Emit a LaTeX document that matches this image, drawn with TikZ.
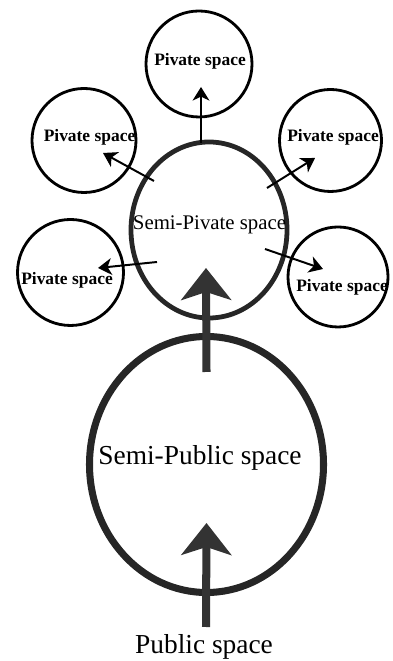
\documentclass[tikz,border=0pt]{standalone}
\usepackage{fontspec}
\setmainfont{Liberation Serif}
\usepackage{tikz}
\usetikzlibrary{arrows.meta,positioning,shapes.geometric,calc}

\begin{document}
\begin{tikzpicture}[
  pspace/.style={circle, draw, line width=2pt, inner sep=0pt},
  mainspace/.style={ellipse, draw, black!85, inner sep=0pt},
  ptext/.style={font=\fontsize{12.4}{15}\selectfont\bfseries},
  sarrow/.style={-{Stealth[length=0.34cm, width=0.42cm, inset=0.1cm]}, line width=1.4pt},
  barrow/.style={-{Stealth[length=0.8cm, width=1.25cm, inset=0.2cm]}, line width=5.7pt, black!80}
]
\useasboundingbox (0,0) rectangle (9.8,16.525);

% Main spaces
\node[mainspace, line width=5pt, minimum width=5.85cm, minimum height=6.4cm] (spub) at (5.1625,4.9125) {};
\node[mainspace, line width=3.4pt, minimum width=3.9cm, minimum height=4.4cm] (spriv) at (5.225,10.775) {};

% Private spaces
\node[pspace, minimum size=2.65cm] (ptop) at (4.975,14.925) {};
\node[pspace, minimum size=2.6cm] (plu) at (2.1,13.0125) {};
\node[pspace, minimum size=2.55cm] (pru) at (8.2625,13.0125) {};
\node[pspace, minimum size=2.65cm] (pll) at (1.7625,9.7125) {};
\node[pspace, minimum size=2.5cm] (prl) at (8.45,9.6) {};

% Labels
\node[ptext] (ttop) at (5.0,15.0) {Pivate space};
\node[ptext] (tlu) at (2.2375,13.1) {Pivate space};
\node[ptext] (tru) at (8.325,13.1) {Pivate space};
\node[ptext] (tll) at (1.675,9.525) {Pivate space};
\node[ptext] (trl) at (8.55,9.35) {Pivate space};
\node[font=\fontsize{14.8}{17}\selectfont] (tspriv) at (5.2375,10.9) {Semi-Pivate space};
\node[font=\fontsize{19.5}{22}\selectfont] (tspub) at (5.0,5.075) {Semi-Public space};
\node[font=\fontsize{19.5}{22}\selectfont] (pub) at (5.1,0.35) {Public space};

% Arrows to private spaces
\draw[sarrow] ($(spriv)+(-0.2,2.175)$) -- ($(ptop)+(0.05,-0.575)$);
\draw[sarrow] ($(spriv)+(-1.375,1.225)$) -- ($(plu)+(0.475,-0.3125)$);
\draw[sarrow] ($(spriv)+(1.45,1.05)$) -- ($(pru)+(-0.3875,-0.4375)$);
\draw[sarrow] ($(spriv)+(-1.3,-0.8)$) -- ($(pll)+(0.6875,0.1125)$);
\draw[sarrow] ($(spriv)+(1.4,-0.475)$) -- ($(prl)+(-0.375,0.2)$);

% Main arrows
\draw[barrow] ($(spub)+(0,2.3125)$) -- ($(spriv)+(-0.075,-0.95)$);
\draw[barrow] ($(pub)+(0.05,0.5)$) -- ($(spub)+(0,-1.4625)$);

\end{tikzpicture}
\end{document}
